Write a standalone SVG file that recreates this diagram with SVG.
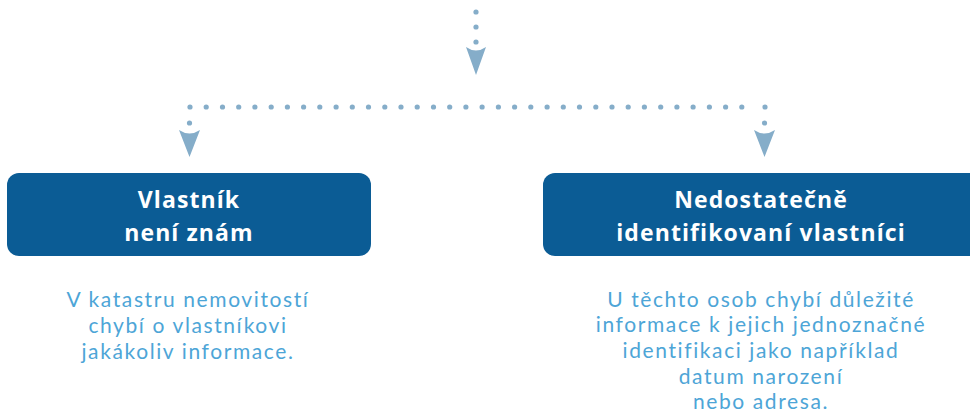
<svg xmlns="http://www.w3.org/2000/svg" width="970" height="415" viewBox="0 0 970 415">
<style>
.dot{fill:#85adc9}
.arr{fill:#85adc9}
.box{fill:#0b5c95}
.t{font-family:"Open Sans","Noto Sans",sans-serif;font-weight:700;font-size:23px;fill:#ffffff;text-anchor:middle;letter-spacing:1.1px}
.b{font-family:Lato,"Open Sans",sans-serif;font-size:21px;fill:#4da5d7;text-anchor:middle;letter-spacing:1.6px}
</style>
<rect width="970" height="415" fill="#ffffff"/>
<g id="connectors">
<circle class="dot" cx="476" cy="12" r="2.6"/>
<circle class="dot" cx="476" cy="27" r="2.6"/>
<circle class="dot" cx="476" cy="42" r="2.6"/>
<path class="arr" d="M466,47 Q476,54 486,47 L476,75 Z"/>
<circle class="dot" cx="190" cy="107" r="2.6"/>
<circle class="dot" cx="206.2" cy="107" r="2.6"/>
<circle class="dot" cx="222.5" cy="107" r="2.6"/>
<circle class="dot" cx="238.7" cy="107" r="2.6"/>
<circle class="dot" cx="254.9" cy="107" r="2.6"/>
<circle class="dot" cx="271.2" cy="107" r="2.6"/>
<circle class="dot" cx="287.4" cy="107" r="2.6"/>
<circle class="dot" cx="303.6" cy="107" r="2.6"/>
<circle class="dot" cx="319.8" cy="107" r="2.6"/>
<circle class="dot" cx="336.1" cy="107" r="2.6"/>
<circle class="dot" cx="352.3" cy="107" r="2.6"/>
<circle class="dot" cx="368.5" cy="107" r="2.6"/>
<circle class="dot" cx="384.8" cy="107" r="2.6"/>
<circle class="dot" cx="401" cy="107" r="2.6"/>
<circle class="dot" cx="417.2" cy="107" r="2.6"/>
<circle class="dot" cx="433.5" cy="107" r="2.6"/>
<circle class="dot" cx="449.7" cy="107" r="2.6"/>
<circle class="dot" cx="465.9" cy="107" r="2.6"/>
<circle class="dot" cx="482.1" cy="107" r="2.6"/>
<circle class="dot" cx="498.4" cy="107" r="2.6"/>
<circle class="dot" cx="514.6" cy="107" r="2.6"/>
<circle class="dot" cx="530.8" cy="107" r="2.6"/>
<circle class="dot" cx="547.1" cy="107" r="2.6"/>
<circle class="dot" cx="563.3" cy="107" r="2.6"/>
<circle class="dot" cx="579.5" cy="107" r="2.6"/>
<circle class="dot" cx="595.8" cy="107" r="2.6"/>
<circle class="dot" cx="612" cy="107" r="2.6"/>
<circle class="dot" cx="628.2" cy="107" r="2.6"/>
<circle class="dot" cx="644.4" cy="107" r="2.6"/>
<circle class="dot" cx="660.7" cy="107" r="2.6"/>
<circle class="dot" cx="676.9" cy="107" r="2.6"/>
<circle class="dot" cx="693.1" cy="107" r="2.6"/>
<circle class="dot" cx="709.4" cy="107" r="2.6"/>
<circle class="dot" cx="725.6" cy="107" r="2.6"/>
<circle class="dot" cx="741.8" cy="107" r="2.6"/>
<circle class="dot" cx="765" cy="107" r="2.6"/>
<circle class="dot" cx="189.5" cy="123" r="2.6"/>
<path class="arr" d="M179,130 Q189.5,137 200,130 L189.5,157 Z"/>
<circle class="dot" cx="764.5" cy="123" r="2.6"/>
<path class="arr" d="M754,130 Q764.5,137 775,130 L764.5,157 Z"/>
</g>
<g id="node-known">
<rect class="box" x="7" y="173" width="364" height="83" rx="12"/>
<text class="t" x="189" y="208">Vlastník</text>
<text class="t" x="189" y="241">není znám</text>
<text class="b" x="188" y="306.5">V katastru nemovitostí</text>
<text class="b" x="188" y="332.5">chybí o vlastníkovi</text>
<text class="b" x="188" y="358.5">jakákoliv informace.</text>
</g>
<g id="node-identified">
<rect class="box" x="543" y="173" width="440" height="83" rx="12"/>
<text class="t" x="761" y="208">Nedostatečně</text>
<text class="t" x="761" y="241">identifikovaní vlastníci</text>
<text class="b" x="761" y="306.5">U těchto osob chybí důležité</text>
<text class="b" x="761" y="332.2">informace k jejich jednoznačné</text>
<text class="b" x="761" y="357.9">identifikaci jako například</text>
<text class="b" x="761" y="383.6">datum narození</text>
<text class="b" x="761" y="409.3">nebo adresa.</text>
</g>
</svg>
